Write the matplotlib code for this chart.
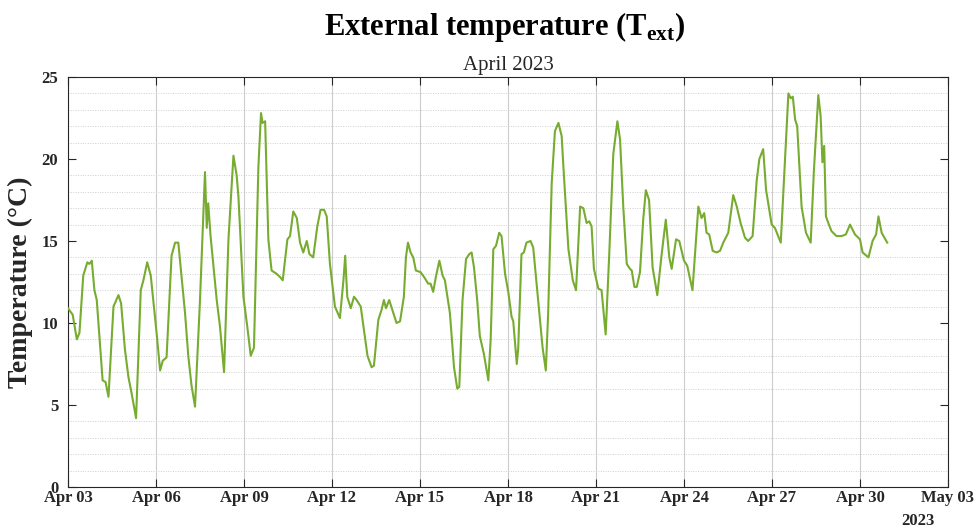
import pandas as pd
import matplotlib
matplotlib.use('Agg')
import matplotlib.pyplot as plt
import matplotlib.dates as mdates
from matplotlib.ticker import MultipleLocator

# values: day offset from Apr 03 00:00 and temperature (degC)
days = [0.00, 0.16, 0.30, 0.39, 0.52, 0.66, 0.73, 0.81, 0.90, 0.98,
        1.18, 1.28, 1.38, 1.55, 1.72, 1.81, 1.94, 2.06, 2.17, 2.32,
        2.48, 2.57, 2.70, 2.82, 3.02, 3.14, 3.23, 3.36, 3.53, 3.65,
        3.76, 3.99, 4.10, 4.21, 4.33, 4.50, 4.67, 4.73, 4.78, 4.86,
        5.07, 5.18, 5.32, 5.47, 5.64, 5.75, 5.81, 5.98, 6.11, 6.23,
        6.34, 6.49, 6.58, 6.63, 6.72, 6.83, 6.94, 7.11, 7.23, 7.32,
        7.48, 7.57, 7.68, 7.80, 7.91, 8.02, 8.14, 8.23, 8.36, 8.50,
        8.61, 8.73, 8.82, 8.93, 9.10, 9.27, 9.39, 9.45, 9.52, 9.64,
        9.75, 9.84, 9.98, 10.21, 10.35, 10.43, 10.58, 10.69, 10.77, 10.84,
        10.95, 11.20, 11.32, 11.45, 11.52, 11.59, 11.68, 11.77, 11.86, 12.02,
        12.14, 12.28, 12.36, 12.45, 12.54, 12.66, 12.77, 12.85, 13.02, 13.16,
        13.27, 13.34, 13.45, 13.57, 13.68, 13.76, 13.84, 13.95, 14.04, 14.18,
        14.33, 14.41, 14.50, 14.59, 14.70, 14.78, 14.90, 15.01, 15.12, 15.18,
        15.30, 15.35, 15.46, 15.54, 15.63, 15.77, 15.86, 16.07, 16.18, 16.29,
        16.37, 16.49, 16.60, 16.72, 16.83, 16.89, 17.06, 17.21, 17.32, 17.46,
        17.57, 17.68, 17.77, 17.85, 17.93, 18.08, 18.19, 18.33, 18.45, 18.59,
        18.73, 18.82, 18.93, 19.05, 19.16, 19.22, 19.31, 19.39, 19.50, 19.61,
        19.70, 19.81, 19.93, 20.09, 20.24, 20.38, 20.50, 20.58, 20.73, 20.84,
        21.00, 21.11, 21.29, 21.49, 21.60, 21.69, 21.77, 21.86, 21.98, 22.11,
        22.23, 22.34, 22.51, 22.68, 22.80, 22.93, 23.08, 23.19, 23.34, 23.48,
        23.57, 23.70, 23.80, 23.99, 24.10, 24.30, 24.41, 24.56, 24.64, 24.71,
        24.79, 24.86, 25.01, 25.16, 25.32, 25.43, 25.58, 25.66, 25.72, 25.78,
        25.84, 25.92, 26.03, 26.20, 26.37, 26.52, 26.66, 26.83, 27.00, 27.09,
        27.29, 27.43, 27.55, 27.63, 27.74, 27.93]
temps = [10.9, 10.5, 9.0, 9.4, 12.9, 13.7, 13.6, 13.8, 12.0, 11.4,
         6.5, 6.4, 5.5, 11.0, 11.7, 11.2, 8.4, 6.7, 5.7, 4.2,
         12.0, 12.6, 13.7, 12.9, 9.4, 7.1, 7.7, 7.9, 14.1, 14.9,
         14.9, 10.6, 8.0, 6.2, 4.9, 11.4, 19.2, 15.8, 17.3, 15.3,
         11.4, 9.8, 7.0, 15.1, 20.2, 19.0, 17.7, 11.6, 9.8, 8.0,
         8.5, 19.5, 22.8, 22.2, 22.3, 15.1, 13.2, 13.0, 12.8, 12.6,
         15.1, 15.3, 16.8, 16.4, 14.9, 14.3, 15.0, 14.2, 14.0, 15.9,
         16.9, 16.9, 16.5, 13.6, 11.0, 10.3, 12.6, 14.1, 11.6, 10.9,
         11.6, 11.4, 11.0, 8.0, 7.3, 7.4, 10.2, 10.8, 11.4, 10.9,
         11.4, 10.0, 10.1, 11.6, 14.0, 14.9, 14.3, 14.0, 13.2, 13.1,
         12.8, 12.4, 12.4, 11.9, 12.8, 13.8, 12.9, 12.6, 10.6, 7.3,
         6.0, 6.1, 11.4, 13.9, 14.2, 14.3, 13.4, 11.4, 9.2, 8.1,
         6.5, 9.0, 14.5, 14.7, 15.5, 15.3, 13.0, 11.9, 10.4, 10.1,
         7.5, 8.5, 14.2, 14.3, 14.9, 15.0, 14.6, 10.6, 8.5, 7.1,
         10.6, 18.5, 21.7, 22.2, 21.4, 19.5, 14.5, 12.6, 12.0, 17.1,
         17.0, 16.1, 16.2, 15.9, 13.3, 12.1, 12.0, 9.3, 14.1, 20.3,
         22.3, 21.2, 17.1, 13.6, 13.3, 13.2, 12.2, 12.2, 13.1, 16.3,
         18.1, 17.5, 13.4, 11.7, 14.2, 16.3, 14.0, 13.3, 15.1, 15.0,
         13.8, 13.5, 12.0, 17.1, 16.4, 16.7, 15.5, 15.4, 14.4, 14.3,
         14.4, 14.9, 15.5, 17.8, 17.1, 16.1, 15.2, 15.0, 15.3, 18.7,
         20.0, 20.6, 18.1, 16.0, 15.8, 14.9, 18.7, 24.0, 23.7, 23.8,
         22.4, 22.0, 17.1, 15.5, 14.9, 19.3, 23.9, 22.6, 19.8, 20.8,
         16.5, 16.1, 15.6, 15.3, 15.3, 15.4, 16.0, 15.4, 15.1, 14.3,
         14.0, 15.0, 15.4, 16.5, 15.5, 14.9]

start = pd.Timestamp('2023-04-03')
end = pd.Timestamp('2023-05-03')
times = start + pd.to_timedelta(days, unit='D')
xticks = pd.date_range(start, end, freq='3D')

plt.rcParams['font.family'] = ['Liberation Serif', 'DejaVu Serif']
plt.rcParams['mathtext.fontset'] = 'custom'
plt.rcParams['mathtext.rm'] = 'Liberation Serif'
plt.rcParams['mathtext.bf'] = 'Liberation Serif:bold'
dark = '#262626'

fig = plt.figure(figsize=(9.8, 5.31), dpi=100)
ax = fig.add_axes([0.0694, 0.0829, 0.8979, 0.7721])
ax.plot(times, temps, color='#77AC30', lw=1.5, zorder=3)

ax.set_xlim(start, end)
ax.set_ylim(0, 25)
ax.set_xticks(xticks)
ax.xaxis.set_major_formatter(mdates.DateFormatter('%b %d'))
ax.yaxis.set_major_locator(MultipleLocator(5))
ax.yaxis.set_minor_locator(MultipleLocator(1))

ax.set_axisbelow(True)
ax.grid(axis='x', which='major', color='#cccccc', lw=0.8)
ax.grid(axis='y', which='minor', color='#cfcfcf', lw=0.7, ls=(0, (1, 1.5)))
ax.tick_params(which='major', direction='in', top=True, right=True,
               length=6, width=0.8, color=dark, labelcolor=dark, labelsize=12)
ax.tick_params(axis='y', which='major', pad=7)
ax.tick_params(axis='x', which='major', pad=2)
ax.tick_params(axis='y', which='minor', left=False, right=False)
for lab in ax.get_xticklabels() + ax.get_yticklabels():
    lab.set_fontweight('bold')
for sp in ax.spines.values():
    sp.set_color(dark)
    sp.set_linewidth(0.8)

ax.set_ylabel('Temperature (°C)', fontsize=20, fontweight='bold', color=dark, labelpad=6)
ax.set_title('April 2023', fontsize=15, color=dark, pad=5)
fig.text(0.515, 0.950, r'External temperature (T$_{\mathbf{ext}}$)', ha='center', va='center',
         fontsize=22, fontweight='bold', color='black')
fig.text(918 / 980, 1 - 521 / 531, '2023', ha='center', va='center',
         fontsize=12, fontweight='bold', color=dark)

fig.savefig('out.png', dpi=100)
